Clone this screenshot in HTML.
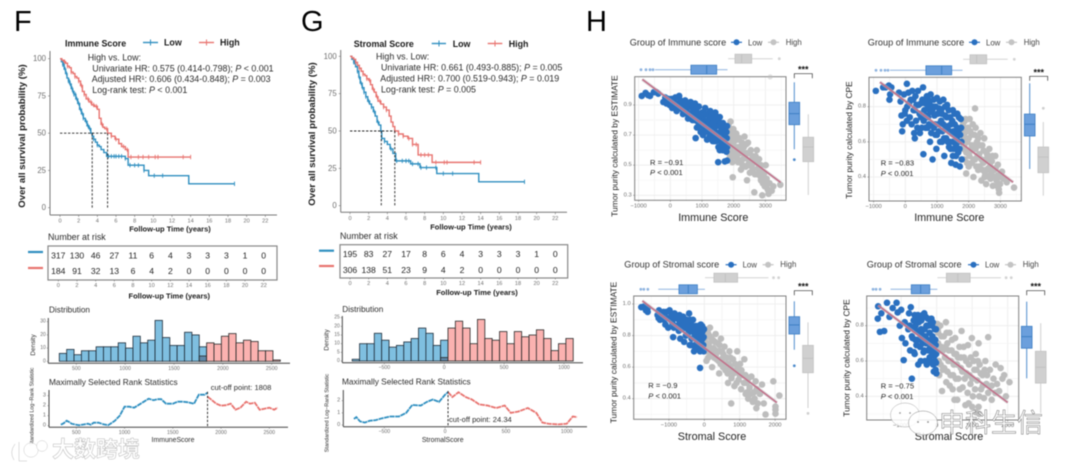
<!DOCTYPE html>
<html lang="en">
<head>
<meta charset="utf-8">
<title>Survival and tumor purity charts</title>
<style>
html,body{margin:0;padding:0;background:#fff;width:1080px;height:470px;overflow:hidden}
svg{display:block;filter:blur(0.5px)}
text{font-family:"Liberation Sans","Noto Sans CJK SC",sans-serif;dominant-baseline:central;fill:#2b2b2b}
.ann{font-size:8.9px}
.bold{font-weight:bold;fill:#1a1a1a}
</style>
</head>
<body>
<svg id="figure" width="1080" height="470" viewBox="0 0 1080 470" xmlns="http://www.w3.org/2000/svg">
  <rect width="1080" height="470" fill="#fff"/>
  <text x="14" y="22" font-size="29" style="fill:#000">F</text>
  <text x="301" y="22" font-size="29" style="fill:#000">G</text>
  <text x="586" y="22" font-size="29" style="fill:#000">H</text>

  <g id="marks"></g>

  <g>
    <text x="65" y="43.7" font-size="8.9" class="bold">Immune Score</text>
    <g>
      <line x1="143" y1="42.5" x2="158" y2="42.5" stroke="#2f8fc0" stroke-width="1.4"/>
      <line x1="150.5" y1="39.5" x2="150.5" y2="45.5" stroke="#2f8fc0"/>
      <text x="164" y="42.7" font-size="8.9" class="bold">Low</text>
    </g>
    <g>
      <line x1="199" y1="42.5" x2="214" y2="42.5" stroke="#e8736f" stroke-width="1.4"/>
      <line x1="206.5" y1="39.5" x2="206.5" y2="45.5" stroke="#e8736f"/>
      <text x="220" y="42.7" font-size="8.9" class="bold">High</text>
    </g>
    <text x="87.7" y="57.7" class="ann">High vs. Low:</text>
    <text x="92.3" y="68.3" class="ann">Univariate HR: 0.575 (0.414-0.798); <tspan font-style="italic">P</tspan> &lt; 0.001</text>
    <text x="91.7" y="79" class="ann">Adjusted HR¹: 0.606 (0.434-0.848); <tspan font-style="italic">P</tspan> = 0.003</text>
    <text x="92.3" y="90" class="ann">Log-rank test: <tspan font-style="italic">P</tspan> &lt; 0.001</text>
    <text transform="translate(22.7 136) rotate(-90)" text-anchor="middle" font-size="9.6" class="bold">Over all survival probability (%)</text>
    <text x="170" y="229" text-anchor="middle" font-size="7.5" class="bold">Follow-up Time (years)</text>
    <text x="48" y="237" font-size="8.9">Number at risk</text>
    <text x="169.3" y="296" text-anchor="middle" font-size="7.5" class="bold">Follow-up Time (years)</text>
    <text x="49" y="310" font-size="8.2">Distribution</text>
    <text transform="translate(33.5 345) rotate(-90)" text-anchor="middle" font-size="6.4">Density</text>
    <text x="49" y="382" font-size="8.3">Maximally Selected Rank Statistics</text>
    <text x="210.7" y="387.7" font-size="7.6">cut-off point: 1808</text>
    <text x="173" y="440.7" text-anchor="middle" font-size="6.9">ImmuneScore</text>
    <text transform="translate(32.7 406.7) rotate(-90)" text-anchor="middle" font-size="5.4">Standardized Log−Rank Statistic</text>
  </g>

  <g>
    <text x="353.7" y="44" font-size="8.9" class="bold">Stromal Score</text>
    <g>
      <line x1="431.7" y1="43.5" x2="446" y2="43.5" stroke="#2f8fc0" stroke-width="1.4"/>
      <line x1="439" y1="40.5" x2="439" y2="46.5" stroke="#2f8fc0"/>
      <text x="452.7" y="44" font-size="8.9" class="bold">Low</text>
    </g>
    <g>
      <line x1="487.7" y1="43.5" x2="502.3" y2="43.5" stroke="#e8736f" stroke-width="1.4"/>
      <line x1="495" y1="40.5" x2="495" y2="46.5" stroke="#e8736f"/>
      <text x="508.7" y="44" font-size="8.9" class="bold">High</text>
    </g>
    <text x="376" y="56.7" class="ann">High vs. Low:</text>
    <text x="381" y="67.7" class="ann">Univariate HR: 0.661 (0.493-0.885); <tspan font-style="italic">P</tspan> = 0.005</text>
    <text x="380.3" y="78.7" class="ann">Adjusted HR¹: 0.700 (0.519-0.943); <tspan font-style="italic">P</tspan> = 0.019</text>
    <text x="381" y="89.3" class="ann">Log-rank test: <tspan font-style="italic">P</tspan> = 0.005</text>
    <text transform="translate(312.3 134) rotate(-90)" text-anchor="middle" font-size="9.6" class="bold">Over all survival probability (%)</text>
    <text x="471" y="227" text-anchor="middle" font-size="7.5" class="bold">Follow-up Time (years)</text>
    <text x="340" y="236" font-size="8.9">Number at risk</text>
    <text x="477" y="292.7" text-anchor="middle" font-size="7.5" class="bold">Follow-up Time (years)</text>
    <text x="342.3" y="309.3" font-size="8.2">Distribution</text>
    <text transform="translate(327 340) rotate(-90)" text-anchor="middle" font-size="6.4">Density</text>
    <text x="342" y="381.7" font-size="8.3">Maximally Selected Rank Statistics</text>
    <text x="449" y="419.3" font-size="7.6">cut-off point: 24.34</text>
    <text x="442.7" y="440.7" text-anchor="middle" font-size="6.9">StromalScore</text>
    <text transform="translate(327.7 413) rotate(-90)" text-anchor="middle" font-size="5.4">Standardized Log−Rank Statistic</text>
  </g>

  <g opacity="0.95">
    <path d="M15 444 Q9 452 14 460 M19 442 V461 H27" fill="none" stroke="#fff" stroke-width="4"/>
    <path d="M15 444 Q9 452 14 460 M19 442 V461 H27" fill="none" stroke="#bbb" stroke-width="0.5"/>
    <circle cx="31" cy="450" r="5.5" fill="none" stroke="#fff" stroke-width="3"/>
    <circle cx="31" cy="450" r="7.2" fill="none" stroke="#bbb" stroke-width="0.4"/>
    <circle cx="42" cy="446" r="4" fill="none" stroke="#fff" stroke-width="2.5"/>
    <circle cx="42" cy="446" r="5.4" fill="none" stroke="#bbb" stroke-width="0.4"/>
    <text x="52" y="449.5" font-size="22" style="fill:#fff;stroke:#b4b4b4;stroke-width:0.5px;font-weight:bold">大数跨境</text>
  </g>
  <g>
    <ellipse cx="905" cy="415" rx="14.5" ry="12" fill="#fff" fill-opacity="0.85" stroke="#aaa" stroke-width="0.5"/>
    <ellipse cx="923" cy="423" rx="14.5" ry="12" fill="#fff" fill-opacity="0.85" stroke="#888" stroke-width="0.5"/>
    <circle cx="900" cy="413" r="0.9" fill="#999"/><circle cx="910" cy="413" r="0.9" fill="#999"/>
    <circle cx="918" cy="422" r="0.9" fill="#888"/><circle cx="928" cy="422" r="0.9" fill="#888"/>
    <text x="939" y="423" font-size="26" style="fill:#fff;stroke:#777;stroke-width:0.5px">申科生信</text>
  </g>
</svg>

<script>
/* ---------- Kaplan-Meier data ---------- */
const kmXTicks = [0,2,4,6,8,10,12,14,16,18,20,22];
const kmYTicks = [0,25,50,75,100];

const fLowTimes  = [0,.15,.3,.45,.6,.75,.9,1.05,1.2,1.35,1.5,1.7,1.9,2.1,2.3,2.5,2.7,2.9,3.1,3.3,3.45,3.6,3.8,4,4.2,4.4,4.7,5,7,7.3,9,9.5,13.8,18.7];
const fLowSurv   = [100,98,96,93,90,87,85,83,80,78,76,73,70,66,63,60,58,55,53,50,48,46,44,42,41,39,37,34.5,33,28.5,25,21.5,16,16];
const fHighTimes = [0,.2,.4,.6,.8,1,1.2,1.4,1.6,1.8,2,2.2,2.4,2.6,2.8,3.1,3.4,3.7,4,4.2,4.4,4.6,4.8,5.1,5.5,5.9,6.3,6.6,7,7.3,14];
const fHighSurv  = [100,99,98,97,95,94,91,90,88,87,85,82,78,76,73,71,69,68,66,60,56,54,53,50,48,46,43,41,39,34,34];
const fLowCensor  = [.3,.4,.55,.7,.9,1,1.1,1.3,1.4,1.5,1.65,1.8,2,2.2,2.4,2.5,2.8,3,3.2,3.6,4,5.2,5.5,5.8,6,6.3,6.6,7,7.5,8,8.4,9,10.1,11,18.7];
const fHighCensor = [.5,.8,1.2,1.6,2,2.3,2.6,3,3.3,3.6,3.9,4.5,5,5.5,6,6.8,7.2,7.6,8.4,8.9,9.5,10.2,10.5,13.2,14];
const fMedians = [3.45,5.1];

const gLowTimes  = [0,.2,.4,.6,.8,.95,1.1,1.3,1.5,1.7,1.9,2.1,2.3,2.5,2.7,2.9,3.1,3.3,3.4,3.7,4,4.3,4.6,4.9,6.5,7.5,9.3,13.8,18.7];
const gLowSurv   = [100,98,96,93,90,86,82,79,76,73,70,68,66,63,60,56,54,50,45,43,41,38,35,30,28,25.5,21.5,16,16];
const gHighTimes = [0,.2,.4,.6,.8,1,1.2,1.4,1.6,1.8,2,2.2,2.4,2.6,2.8,3,3.3,3.6,3.9,4.2,4.4,4.6,4.8,5.2,5.7,6.2,6.7,7.3,8.8,14];
const gHighSurv  = [100,99,98,96,94,92,90,88,87,85,84,81,78,76,73,70,68,66,64,60,56,53,50,48,46.5,45,41,34,29,29];
const gLowCensor  = [.4,.5,.8,1,1.2,1.35,1.5,1.7,2,2.3,2.6,3,3.4,3.7,4.4,5,5.6,6,6.3,6.7,7.3,7.6,8.2,9.2,10,11,18.7];
const gHighCensor = [.6,1,1.4,1.8,2.1,2.5,2.9,3.2,3.6,3.9,4.8,5.2,5.7,6.3,6.7,7.1,7.6,8,8.4,9.2,10.1,10.4,13.3,14];
const gMedians = [3.35,4.8];

/* ---------- Numbers at risk ---------- */
const riskTimes = [0,2,4,6,8,10,12,14,16,18,20,22];
const fRiskLow  = [317,130,46,27,11,6,4,3,3,3,1,0];
const fRiskHigh = [184,91,32,13,6,4,2,0,0,0,0,0];
const gRiskLow  = [195,83,27,17,8,6,4,3,3,3,1,0];
const gRiskHigh = [306,138,51,23,9,4,2,0,0,0,0,0];

/* ---------- Distribution histograms ---------- */
const fHistStart = 326;
const fHistWidth = 75.4;
const fHistLow  = [6,9,5,8,8,11,11,11,14,10,19,14,16,31,18,12,12,22,20,11,0,0,0,0,0,0,0,0,0,0];
const fHistHigh = [0,0,0,0,0,0,0,0,0,0,0,0,0,0,0,0,0,0,0,4,14,13,19,21,14,16,15,8,8,1];
const fHistXTicks = [500,1000,1500,2000,2500];
const fHistYTicks = [0,10,20,30];

const gHistStart = -768;
const gHistWidth = 61.5;
const gHistLow  = [1,10,10,16,12,8,9,11,13,19,16,9,12,0,0,0,0,0,0,0,0,0,0,0,0,0,0,0,0,0];
const gHistHigh = [0,0,0,0,0,0,0,0,0,0,0,0,2,19,23,19,10,24,13,12,17,10,17,14,15,18,13,6,10,13];
const gHistXTicks = [-500,0,500,1000];
const gHistYTicks = [0,5,10,15,20,25];

/* ---------- Maximally selected rank statistics ---------- */
const fRankLowX  = [340,370,400,430,450,500,530,560,590,620,650,680,730,780,830,870,900,950,1000,1050,1100,1150,1200,1250,1300,1340,1380,1430,1500,1550,1600,1650,1720,1770,1830,1860];
const fRankLowY  = [.1,.25,.5,.35,.2,.1,.05,.1,.15,.2,.1,.3,.3,.15,.05,.3,.5,1,1.9,1.9,1.8,2.1,2.4,2.7,2.55,2.65,2.65,2.2,2.2,2.4,2.4,2.35,2.2,3.1,3.1,3.3];
const fRankHighX = [1860,1900,1950,2000,2050,2100,2150,2200,2260,2300,2350,2400,2450,2500,2550,2585];
const fRankHighY = [2.9,2.6,2.2,2.0,2.05,2.2,1.6,1.8,2.4,2.2,2.3,1.6,1.7,1.8,1.6,1.8];
const fRankCutoff = [1860];
const fRankXTicks = [500,1000,1500,2000,2500];
const fRankYTicks = [0,1,2,3];

const gRankLowX  = [-750,-730,-700,-660,-620,-570,-520,-450,-380,-320,-270,-200,-150,-100,-50,0,24];
const gRankLowY  = [.5,.65,.3,.2,.35,.4,.55,.7,.7,1,1.65,1.6,1.9,2.1,1.9,2.5,2.7];
const gRankHighX = [24,60,110,170,220,280,350,420,490,540,600,680,750,800,850,930,1000,1050,1085];
const gRankHighY = [2.7,2.3,2.7,2.3,2.1,1.7,1.6,1.4,1.6,1.0,1.1,1.4,1,.2,.1,.05,.1,.7,.65];
const gRankCutoff = [24.34];
const gRankXTicks = [-500,0,500,1000];
const gRankYTicks = [0,1,2];

/* ---------- Scatter panels ---------- */
const p1Low = [[-900,.96],[-780,.98],[-700,.965],[-640,.96],[-520,.985],[-440,.985],[-380,.975],[-220,.92],[-160,.95],[-120,.91],[-60,.94],[-20,.90],[40,.94],[60,.88],[120,.92],[160,.95],[200,.86],[240,.91],[280,.96],[320,.93],[340,.88],[400,.84],[420,.90],[470,.93],[520,.86],[560,.81],[600,.89],[640,.92],[680,.84],[700,.80],[720,.87],[760,.80],[780,.91],[800,.68],[840,.75],[860,.84],[900,.89],[900,.81],[940,.78],[960,.72],[1000,.85],[1020,.81],[1060,.74],[1100,.88],[1100,.77],[1130,.79],[1160,.67],[1180,.84],[1200,.80],[1220,.72],[1260,.86],[1280,.77],[1300,.74],[1320,.69],[1340,.82],[1380,.74],[1400,.70],[1420,.85],[1450,.66],[1450,.76],[1470,.79],[1500,.71],[1520,.62],[1540,.76],[1560,.82],[1600,.67],[1620,.73],[1650,.60],[1660,.78],[1700,.70],[1720,.64],[1740,.75],[1770,.59],[1780,.68],[1790,.62],[1510,.52],[1720,.525],[1790,.53],
  [0,.92],[100,.90],[180,.89],[260,.88],[300,.90],[380,.87],[450,.88],[500,.90],[550,.84],[600,.84],[650,.81],[700,.90],[740,.83],[780,.85],[820,.87],[860,.79],[900,.76],[950,.83],[1000,.78],[1030,.70],[1050,.83],[1090,.72],[1120,.84],[1160,.73],[1200,.76],[1240,.69],[1240,.82],[1300,.83],[1340,.66],[1350,.78],[1390,.66],[1400,.80],[1420,.72],[1480,.68],[1500,.82],[1530,.68],[1560,.60],[1570,.72],[1620,.64],[1640,.76],[1680,.66],[1700,.60],[1720,.72],[1760,.62],[1770,.72],[1790,.76],[1750,.68],[1600,.78]];
const p1High = [[1820,.72],[1860,.64],[1880,.55],[1900,.79],[1920,.68],[1950,.60],[1970,.42],[1990,.74],[2020,.66],[2050,.56],[2080,.71],[2110,.62],[2140,.52],[2170,.68],[2200,.58],[2230,.47],[2260,.65],[2290,.54],[2320,.62],[2340,.69],[2380,.49],[2400,.58],[2420,.40],[2450,.65],[2480,.53],[2510,.45],[2540,.60],[2570,.49],[2600,.56],[2650,.32],[2670,.44],[2700,.52],[2730,.60],[2770,.48],[2800,.54],[2830,.43],[2860,.50],[2900,.30],[2920,.38],[2950,.44],[2980,.36],[3010,.50],[3040,.41],[3070,.34],[3100,.31],[3130,.38],[3200,.33],[3250,.36],[3470,.37],[1850,.58],[1960,.52],[2150,.60],[2080,.58],[2000,.62],
  [1830,.66],[1840,.76],[1880,.72],[1900,.62],[1930,.57],[1950,.72],[1990,.56],[2040,.70],[2060,.62],[2100,.55],[2120,.67],[2180,.62],[2210,.53],[2250,.60],[2280,.50],[2300,.58],[2360,.55],[2400,.64],[2440,.50],[2500,.58],[2530,.50],[2600,.47],[2640,.52],[2690,.56],[2750,.44],[2800,.47],[2860,.40],[2900,.45],[2970,.40],[3020,.37]];
const p1Stray = [[3150,1.087]];
const p1Fit = [[-883,1.07],[3480,.386]];

const p2Low = [[-930,.89],[-700,.91],[-620,.91],[-520,.92],[-500,.84],[-480,.87],[-440,.91],[-200,.88],[-150,.83],[-120,.75],[-80,.70],[-40,.87],[-20,.76],[-100,.66],[50,.93],[60,.80],[100,.88],[140,.74],[170,.84],[220,.89],[260,.78],[280,.65],[300,.62],[320,.86],[340,.72],[400,.89],[420,.81],[460,.65],[500,.74],[540,.84],[560,.91],[570,.53],[600,.78],[640,.68],[680,.86],[720,.74],[760,.82],[780,.60],[800,.87],[830,.70],[860,.50],[880,.80],[920,.75],[950,.64],[980,.56],[1000,.85],[1040,.70],[1070,.79],[1100,.60],[1130,.72],[1170,.66],[1200,.84],[1230,.52],[1260,.75],[1290,.62],[1320,.81],[1350,.69],[1380,.57],[1410,.74],[1450,.48],[1470,.65],[1500,.78],[1530,.56],[1560,.70],[1590,.47],[1620,.62],[1640,.76],[1670,.54],[1700,.67],[1720,.46],[1750,.73],[1770,.60],[1780,.50],[1600,.66],[900,.68],[1150,.76],[1400,.60],[700,.79],
  [0,.78],[50,.72],[120,.82],[200,.70],[250,.84],[300,.78],[350,.81],[380,.68],[450,.76],[500,.82],[520,.68],[580,.72],[620,.82],[650,.75],[700,.68],[720,.84],[750,.70],[790,.77],[820,.65],[850,.78],[900,.84],[940,.70],[960,.80],[1000,.64],[1020,.76],[1060,.66],[1090,.83],[1130,.78],[1160,.60],[1200,.70],[1220,.62],[1250,.80],[1280,.68],[1310,.74],[1340,.60],[1370,.78],[1400,.66],[1430,.56],[1440,.70],[1480,.72],[1500,.60],[1520,.66],[1550,.76],[1580,.64],[1600,.58],[1640,.68],[1660,.60],[1690,.74],[1710,.56],[1730,.64],[1760,.68],[1600,.52],[1500,.52]];
const p2High = [[1820,.70],[1830,.56],[1850,.63],[1870,.50],[1900,.73],[1920,.42],[1960,.60],[1980,.68],[2000,.46],[2030,.73],[2060,.55],[2090,.64],[2200,.79],[2150,.40],[2170,.58],[2200,.50],[2220,.68],[2260,.60],[2300,.44],[2330,.53],[2370,.65],[2400,.38],[2430,.58],[2460,.48],[2490,.62],[2520,.42],[2550,.36],[2580,.53],[2620,.45],[2650,.56],[2690,.39],[2730,.49],[2760,.35],[2800,.44],[2840,.52],[2880,.38],[2920,.47],[2950,.33],[2960,.31],[3000,.40],[2990,.36],[3050,.43],[3100,.39],[3200,.37],[3430,.34],[1870,.65],[2000,.55],[2100,.48],
  [1840,.68],[1860,.58],[1880,.72],[1900,.62],[1920,.54],[1940,.66],[1950,.48],[2000,.62],[2020,.52],[2050,.66],[2100,.58],[2130,.70],[2150,.50],[2180,.64],[2220,.56],[2240,.46],[2280,.52],[2300,.62],[2340,.46],[2360,.58],[2400,.50],[2440,.44],[2470,.55],[2500,.40],[2540,.50],[2560,.44],[2600,.50],[2640,.40],[2680,.46],[2720,.42],[2750,.52],[2790,.40],[2850,.45],[2900,.35],[2920,.41]];
const p2Stray = [];
const p2Fit = [[-800,.94],[3400,.37]];

const p3Low = [[-1780,.98],[-1700,.985],[-1650,.96],[-1600,.975],[-1600,.95],[-1280,.96],[-1320,.93],[-1250,.90],[-1180,.93],[-1130,.90],[-1070,.95],[-1020,.85],[-1000,.91],[-980,.96],[-900,.88],[-880,.79],[-840,.94],[-800,.86],[-760,.91],[-720,.83],[-680,.78],[-640,.89],[-600,.92],[-570,.76],[-540,.85],[-500,.90],[-470,.81],[-430,.94],[-410,.74],[-380,.87],[-350,.83],[-320,.90],[-290,.70],[-270,.79],[-240,.86],[-200,.75],[-170,.82],[-150,.72],[-120,.70],[-100,.87],[-80,.77],[-60,.82],[-30,.74],[-10,.84],[-120,.595],[-230,.80],[-450,.87],[-700,.89],[-140,.79],
  [-1290,.91],[-1220,.94],[-1150,.95],[-1100,.87],[-1050,.91],[-950,.90],[-920,.93],[-860,.85],[-800,.91],[-760,.86],[-700,.93],[-660,.85],[-620,.84],[-580,.87],[-520,.80],[-490,.86],[-440,.83],[-400,.90],[-360,.78],[-330,.86],[-300,.82],[-260,.85],[-220,.75],[-180,.86],[-150,.77],[-110,.83],[-90,.73],[-50,.78],[-20,.79],[-20,.70],[-60,.86],[-270,.73],[-370,.74]];
const p3High = [[20,.78],[40,.70],[60,.64],[100,.82],[130,.75],[160,.85],[180,.68],[220,.60],[250,.77],[290,.71],[320,.81],[350,.65],[390,.75],[420,.56],[440,.70],[470,.78],[510,.62],[540,.68],[570,.73],[600,.58],[640,.66],[670,.50],[710,.70],[730,.60],[770,.53],[810,.65],[850,.48],[760,.37],[890,.58],[930,.70],[970,.52],[1010,.62],[1040,.46],[1090,.55],[1130,.65],[1170,.43],[1200,.50],[1240,.40],[1280,.47],[1330,.54],[1370,.38],[1400,.44],[1450,.51],[1470,.34],[1510,.37],[1570,.43],[1630,.49],[1680,.37],[1730,.30],[1950,.51],[2010,.33],[2010,.35],[2010,.305],[2120,.42],[480,.65],[280,.66],[120,.70],
  [30,.84],[50,.75],[70,.80],[90,.72],[110,.66],[140,.80],[170,.72],[200,.78],[230,.68],[260,.72],[300,.76],[330,.68],[370,.70],[400,.64],[430,.74],[460,.62],[500,.70],[530,.60],[560,.66],[620,.62],[660,.56],[690,.62],[740,.66],[790,.58],[830,.56],[870,.62],[910,.50],[950,.60],[1000,.55],[1050,.58],[1120,.50],[1160,.55],[1250,.53],[1300,.43],[1420,.40],[1480,.46],[1200,.44]];
const p3Stray = [];
const p3Fit = [[-1750,1.02],[2050,.375]];

const p4Low = [[-1660,.84],[-1650,.91],[-1600,.765],[-1560,.87],[-1480,.77],[-1400,.93],[-1330,.85],[-1240,.90],[-1130,.93],[-1100,.875],[-1040,.80],[-1000,.89],[-980,.73],[-930,.605],[-900,.82],[-880,.70],[-800,.78],[-780,.87],[-750,.66],[-730,.905],[-700,.50],[-680,.73],[-640,.65],[-600,.80],[-570,.69],[-530,.86],[-490,.76],[-450,.60],[-430,.83],[-400,.70],[-370,.65],[-340,.78],[-310,.85],[-280,.58],[-260,.72],[-230,.80],[-200,.67],[-180,.60],[-150,.84],[-120,.74],[-100,.64],[-80,.54],[-50,.78],[-30,.69],[-20,.59],[-10,.53],[-350,.87],[-520,.58],[-650,.83],[-560,.77],[-300,.70],[-130,.80],[-60,.63],[-420,.75],
  [-760,.80],[-700,.74],[-660,.79],[-620,.86],[-600,.72],[-560,.84],[-530,.72],[-500,.82],[-470,.68],[-440,.78],[-400,.86],[-380,.72],[-350,.66],[-320,.74],[-290,.80],[-250,.84],[-240,.66],[-200,.76],[-180,.83],[-160,.70],[-130,.64],[-110,.82],[-90,.72],[-70,.66],[-50,.60],[-40,.72],[-20,.78],[-15,.64],[-100,.58],[-30,.55],[-200,.62],[-330,.60],[-620,.64]];
const p4High = [[20,.81],[40,.70],[60,.60],[70,.52],[30,.78],[100,.80],[130,.68],[150,.43],[170,.55],[200,.74],[230,.62],[260,.82],[270,.48],[300,.70],[330,.60],[360,.76],[390,.52],[420,.66],[450,.44],[480,.58],[520,.73],[550,.64],[580,.38],[610,.50],[640,.68],[680,.56],[700,.77],[730,.45],[770,.62],[810,.35],[840,.53],[880,.69],[910,.58],[950,.47],[990,.73],[1020,.40],[1060,.55],[1100,.64],[1140,.49],[1180,.34],[1210,.58],[1250,.44],[1290,.52],[1330,.39],[1370,.60],[1450,.735],[1400,.47],[1450,.42],[1500,.55],[1550,.38],[1600,.50],[1660,.58],[1700,.47],[1760,.43],[1800,.56],[1850,.50],[1900,.52],[2050,.48],[1950,.40],[1180,.70],[500,.38],
  [40,.76],[80,.66],[110,.58],[130,.74],[180,.66],[210,.56],[250,.68],[280,.76],[300,.54],[340,.66],[370,.46],[400,.60],[430,.72],[460,.52],[500,.64],[540,.50],[570,.58],[600,.62],[650,.44],[680,.62],[720,.54],[760,.68],[790,.50],[830,.60],[870,.42],[920,.52],[960,.62],[1000,.50],[1040,.60],[1080,.44],[1120,.55],[1160,.60],[1200,.40],[1240,.53],[1300,.46],[1350,.55],[1420,.52],[1550,.46],[1650,.42],[900,.36],[1000,.34],[1100,.31],[1200,.30]];
const p4Stray = [];
const p4Fit = [[-1650,.915],[2000,.365]];

/* ---------- Box plot statistics: lower whisker, Q1, median, Q3, upper whisker ---------- */
const immuneLowBox = [-483,650,1148,1464,1805];
const immuneLowOut = [-924,-767,-640,-546];
const immuneHighBox = [1825,2041,2252,2568,3230];
const immuneHighOut = [3438];
const stromalLowBox = [-1300,-716,-452,-195,18];
const stromalLowOut = [-1793,-1708,-1595];
const stromalHighBox = [20,272,594,942,1812];
const stromalHighOut = [1955,2100];

const p1PurityLowBox = [.584,.733,.80,.869,.99];
const p1PurityLowOut = [.521];
const p1PurityHighBox = [.307,.509,.598,.657,.796];
const p1PurityHighOut = [];
const p2PurityLowBox = [.446,.64,.709,.769,.95];
const p2PurityLowOut = [];
const p2PurityHighBox = [.289,.424,.516,.575,.722];
const p2PurityHighOut = [.803];
const p3PurityLowBox = [.693,.79,.846,.897,.992];
const p3PurityLowOut = [.594];
const p3PurityHighBox = [.333,.551,.64,.72,.862];
const p3PurityHighOut = [.30];
const p4PurityLowBox = [.484,.661,.729,.79,.935];
const p4PurityLowOut = [];
const p4PurityHighBox = [.28,.456,.549,.643,.808];
const p4PurityHighOut = [];

const immuneTicks = [-1000,0,1000,2000,3000];
const stromalTicks = [-1000,0,1000,2000];
const p1PurityTicks = [.3,.5,.7,.9];
const p2PurityTicks = [.4,.6,.8];
const p3PurityTicks = [.4,.6,.8,1.0];
const p4PurityTicks = [.4,.6,.8];

/* ---------- Helpers ---------- */
const NS = 'http://www.w3.org/2000/svg';
const root = document.getElementById('marks');
const LOW = '#2f8fc0', HIGH = '#e8736f', TICK = '#6e6e6e', AXIS = '#444';

function linear(v0, p0, v1, p1) {
  const f = (p1 - p0) / (v1 - v0);
  return v => p0 + (v - v0) * f;
}
function make(parent, tag, attrs) {
  const e = document.createElementNS(NS, tag);
  for (const k in attrs) e.setAttribute(k, attrs[k]);
  parent.appendChild(e);
  return e;
}
function group(name) {
  const g = make(root, 'g', {});
  
  
  return g;
}
function line(g, name, x1, y1, x2, y2, stroke, w, dash) {
  const l = make(g, 'line', {x1, y1, x2, y2, stroke, 'stroke-width': w || 1});
  if (dash) l.setAttribute('stroke-dasharray', dash);
  
  
  return l;
}
function label(g, name, x, y, str, size, anchor, color) {
  const t = make(g, 'text', {x, y, 'font-size': size, 'text-anchor': anchor || 'start'});
  if (color) t.style.fill = color;
  t.textContent = str;
  
  
  return t;
}
function stepAt(times, vals, t) {
  let v = vals[0];
  for (let i = 0; i < times.length; i++) if (times[i] <= t) v = vals[i];
  return v;
}

/* ---------- Kaplan-Meier ---------- */
function drawKM(name, c) {
  const g = group('km-plot-' + name);
  const x = linear(0, c.x0, 22, c.x22), y = linear(0, c.y0, 100, c.y100);
  line(g, 'km-y-axis', c.left, c.top, c.left, c.bottom, '#777', 1);
  line(g, 'km-x-axis', c.left, c.bottom, c.right, c.bottom, '#777', 1);
  kmXTicks.forEach(t => {
    line(g, 'km-x-tick', x(t), c.bottom, x(t), c.bottom + 2, '#777', .6);
    label(g, 'km-x-tick-label', x(t), c.bottom + 6.7, t, 5.6, 'middle', TICK);
  });
  kmYTicks.forEach(v => {
    line(g, 'km-y-tick', c.left - 2, y(v), c.left, y(v), '#777', .6);
    label(g, 'km-y-tick-label', c.left - 4, y(v), v, 7.8, 'end', TICK);
  });
  [[c.lowT, c.lowS, c.lowC, LOW, 'low'], [c.highT, c.highS, c.highC, HIGH, 'high']].forEach(s => {
    let d = 'M' + x(s[0][0]) + ' ' + y(s[1][0]);
    for (let i = 1; i < s[0].length; i++) d += 'H' + x(s[0][i]) + 'V' + y(s[1][i]);
    const p = make(g, 'path', {d, fill: 'none', stroke: s[3], 'stroke-width': 1.4});
    
    
    s[2].forEach(t => {
      const v = stepAt(s[0], s[1], t);
      line(g, 'km-censor-mark-' + s[4], x(t), y(v) - 2.2, x(t), y(v) + 2.2, s[3], .9);
    });
  });
  line(g, 'median-line-horizontal', x(0), y(50), x(c.med[1]), y(50), '#222', .9, '2.4 1.6');
  c.med.forEach(t => line(g, 'median-line-vertical', x(t), y(50), x(t), y(0), '#222', .9, '2.4 1.6'));
}
drawKM('immune', {x0:60, x22:265.3, y0:207.7, y100:58.7, left:50, top:51, bottom:215, right:277,
  lowT:fLowTimes, lowS:fLowSurv, lowC:fLowCensor, highT:fHighTimes, highS:fHighSurv, highC:fHighCensor, med:fMedians});
drawKM('stromal', {x0:350, x22:555.3, y0:205.7, y100:56.3, left:340.7, top:50, bottom:212.3, right:567,
  lowT:gLowTimes, lowS:gLowSurv, lowC:gLowCensor, highT:gHighTimes, highS:gHighSurv, highC:gHighCensor, med:gMedians});

/* ---------- Risk tables ---------- */
function drawRisk(name, c) {
  const g = group('risk-table-' + name);
  const x = linear(0, c.x0, 22, c.x22);
  const r = make(g, 'rect', {x:c.left, y:c.top, width:c.right-c.left, height:c.bottom-c.top, fill:'#fff', stroke:'#888', 'stroke-width':1.2});
  
  
  line(g, 'risk-legend-low', c.legL, c.legY1, c.legR, c.legY1, LOW, 2.2);
  line(g, 'risk-legend-high', c.legL, c.legY2, c.legR, c.legY2, HIGH, 2.2);
  riskTimes.forEach((t, i) => {
    label(g, 'risk-count-low', x(t), c.row1, c.low[i], 8.6, 'middle', '#222');
    label(g, 'risk-count-high', x(t), c.row2, c.high[i], 8.6, 'middle', '#222');
    line(g, 'risk-tick', x(t), c.bottom, x(t), c.bottom + 1.5, '#777', .6);
    label(g, 'risk-tick-label', x(t), c.bottom + 6, t, 5.6, 'middle', TICK);
  });
}
drawRisk('immune', {x0:58.3, x22:263.7, left:48, right:277, top:246, bottom:280, row1:255.5, row2:271, legL:28, legR:43, legY1:252, legY2:268, low:fRiskLow, high:fRiskHigh});
drawRisk('stromal', {x0:350, x22:555.3, left:340, right:567.7, top:244.7, bottom:278, row1:254, row2:270, legL:319, legR:334, legY1:250.7, legY2:266, low:gRiskLow, high:gRiskHigh});

/* ---------- Histograms ---------- */
function drawHist(name, c) {
  const g = group('distribution-' + name);
  const x = c.x, y = c.y;
  c.low.forEach((n, i) => {
    const a = x(c.start + i * c.width), b = x(c.start + (i + 1) * c.width);
    const h = c.high[i];
    if (n > 0) {
      const r = make(g, 'rect', {x:a, y:y(n), width:b-a, height:y(0)-y(n), fill:'#7fbfe0', stroke:'#1f2d3a', 'stroke-width':.8});
      
      
    }
    if (h > 0) {
      const r = make(g, 'rect', {x:a, y:y(h), width:b-a, height:y(0)-y(h), fill:n > 0 ? '#5f88a8' : '#fbb2b0', stroke:'#2a2a2a', 'stroke-width':.8});
      
      
    }
  });
  line(g, 'histogram-y-axis', c.left, c.top, c.left, c.bottom, AXIS, 1);
  line(g, 'histogram-x-axis', c.left, c.bottom, c.right, c.bottom, AXIS, 1);
  c.xTicks.forEach(t => {
    line(g, 'histogram-x-tick', x(t), c.bottom, x(t), c.bottom + 1.5, '#777', .6);
    label(g, 'histogram-x-tick-label', x(t), c.bottom + 5.5, t < 0 ? '−' + (-t) : t, 5.2, 'middle', TICK);
  });
  c.yTicks.forEach(v => {
    line(g, 'histogram-y-tick', c.left - 1.5, y(v), c.left, y(v), '#777', .6);
    label(g, 'histogram-y-tick-label', c.left - 2.5, y(v), v, 5, 'end', TICK);
  });
}
drawHist('immune', {x:linear(500,76.3,2500,271.7), y:linear(0,361.3,30,321.7), start:fHistStart, width:fHistWidth, low:fHistLow, high:fHistHigh,
  left:48.3, top:318, bottom:363.3, right:290, xTicks:fHistXTicks, yTicks:fHistYTicks});
drawHist('stromal', {x:linear(-500,384.3,1000,564), y:linear(0,361,25,317.7), start:gHistStart, width:gHistWidth, low:gHistLow, high:gHistHigh,
  left:342.3, top:316, bottom:362.7, right:583, xTicks:gHistXTicks, yTicks:gHistYTicks});

/* ---------- Rank statistic lines ---------- */
function drawRank(name, c) {
  const g = group('rank-statistic-' + name);
  const x = c.x, y = c.y;
  [[c.lowX, c.lowY, LOW, 'low'], [c.highX, c.highY, HIGH, 'high']].forEach(s => {
    const pts = s[0].map((v, i) => x(v) + ',' + y(s[1][i])).join(' ');
    const p = make(g, 'polyline', {points: pts, fill: 'none', stroke: s[2], 'stroke-width': 1.8, 'stroke-dasharray': '5 .6'});
    
    
  });
  line(g, 'cutoff-line', x(c.cut[0]), c.cutTop, x(c.cut[0]), c.bottom, '#222', .9, '2.4 1.6');
  line(g, 'rank-y-axis', c.left, c.top, c.left, c.bottom, AXIS, 1);
  line(g, 'rank-x-axis', c.left, c.bottom, c.right, c.bottom, AXIS, 1);
  c.xTicks.forEach(t => {
    line(g, 'rank-x-tick', x(t), c.bottom, x(t), c.bottom + 1.5, '#777', .6);
    label(g, 'rank-x-tick-label', x(t), c.bottom + 5.5, t < 0 ? '−' + (-t) : t, 5.2, 'middle', TICK);
  });
  c.yTicks.forEach(v => {
    line(g, 'rank-y-tick', c.left - 1.5, y(v), c.left, y(v), '#777', .6);
    label(g, 'rank-y-tick-label', c.left - 3, y(v), v, 5.6, 'end', TICK);
  });
}
drawRank('immune', {x:linear(500,76.3,2500,269.3), y:linear(0,425.7,3,395.7), lowX:fRankLowX, lowY:fRankLowY, highX:fRankHighX, highY:fRankHighY,
  cut:fRankCutoff, cutTop:391.7, left:49, top:390, bottom:427.3, right:288, xTicks:fRankXTicks, yTicks:fRankYTicks});
drawRank('stromal', {x:linear(-500,384.3,1000,566.7), y:linear(0,425,2,400.7), lowX:gRankLowX, lowY:gRankLowY, highX:gRankHighX, highY:gRankHighY,
  cut:gRankCutoff, cutTop:391, left:343.3, top:390, bottom:426.7, right:587, xTicks:gRankXTicks, yTicks:gRankYTicks});

/* ---------- Box plots ---------- */
function drawBox(g, name, scale, stats, outliers, center, thick, horizontal, fill, stroke, whisk) {
  const v = stats.map(scale);
  const L = (p1, p2, c, col, w, n) => horizontal
    ? line(g, n, p1, center + c, p2, center + c, col, w)
    : line(g, n, center + c, p1, center + c, p2, col, w);
  L(v[0], v[1], 0, whisk, 1, name + '-whisker-lower');
  L(v[3], v[4], 0, whisk, 1, name + '-whisker-upper');
  const r = make(g, 'rect', horizontal
    ? {x:Math.min(v[1],v[3]), y:center-thick/2, width:Math.abs(v[3]-v[1]), height:thick}
    : {x:center-thick/2, y:Math.min(v[1],v[3]), width:thick, height:Math.abs(v[3]-v[1])});
  r.setAttribute('fill', fill);
  r.setAttribute('stroke', stroke);
  r.setAttribute('stroke-width', .8);
  
  
  const m = horizontal
    ? line(g, name + '-median', v[2], center - thick/2, v[2], center + thick/2, stroke, 1)
    : line(g, name + '-median', center - thick/2, v[2], center + thick/2, v[2], stroke, 1);
  outliers.forEach(o => {
    const q = scale(o);
    const c = make(g, 'circle', horizontal ? {cx:q, cy:center, r:1.4, fill:whisk} : {cx:center, cy:q, r:1.4, fill:whisk});
    
    
  });
  return m;
}

/* ---------- Scatter panels ---------- */
function drawScatter(name, c) {
  const g = group('scatter-panel-' + name);
  const x = c.x, y = c.y;
  const bg = make(g, 'rect', {x:c.left, y:c.top, width:c.right-c.left, height:c.bottom-c.top, fill:'#fff'});
  
  
  const xHalf = (c.xTicks[1] - c.xTicks[0]) / 2, yHalf = (c.yTicks[1] - c.yTicks[0]) / 2;
  c.xTicks.forEach(t => {
    line(g, 'grid-x-major', x(t), c.top, x(t), c.bottom, '#ececec', .8);
    [t - xHalf, t + xHalf].forEach(m => {
      if (x(m) > c.left && x(m) < c.right) line(g, 'grid-x-minor', x(m), c.top, x(m), c.bottom, '#f4f4f4', .6);
    });
    line(g, 'x-tick', x(t), c.bottom, x(t), c.bottom + 1.5, '#777', .6);
    label(g, 'x-tick-label', x(t), c.bottom + 6.2, t < 0 ? '−' + (-t) : t, 5.8, 'middle', TICK);
  });
  c.yTicks.forEach(v => {
    line(g, 'grid-y-major', c.left, y(v), c.right, y(v), '#ececec', .8);
    [v - yHalf, v + yHalf].forEach(m => {
      if (y(m) > c.top && y(m) < c.bottom) line(g, 'grid-y-minor', c.left, y(m), c.right, y(m), '#f4f4f4', .6);
    });
    line(g, 'y-tick', c.left - 1.5, y(v), c.left, y(v), '#777', .6);
    label(g, 'y-tick-label', c.left - 3, y(v), v.toFixed(1), 5.8, 'end', TICK);
  });
  c.high.forEach(p => {
    const d = make(g, 'circle', {cx:x(p[0]), cy:y(p[1]), r:3.3, fill:'#bdbdbd'});
    
    
  });
  c.low.forEach(p => {
    const d = make(g, 'circle', {cx:x(p[0]), cy:y(p[1]), r:3.3, fill:'#2a70c0'});
    
    
  });
  line(g, 'fit-line-band', x(c.fit[0][0]), y(c.fit[0][1]), x(c.fit[1][0]), y(c.fit[1][1]), 'rgba(190,190,190,.55)', 3.2);
  line(g, 'fit-line', x(c.fit[0][0]), y(c.fit[0][1]), x(c.fit[1][0]), y(c.fit[1][1]), '#c2708a', 1.6);
  const frame = make(g, 'rect', {x:c.left, y:c.top, width:c.right-c.left, height:c.bottom-c.top, fill:'none', stroke:'#808080', 'stroke-width':1});
  
  
  c.stray.forEach(p => {
    const d = make(g, 'circle', {cx:x(p[0]), cy:y(p[1]), r:2.6, fill:'#bdbdbd', 'fill-opacity':.45});
    
    
  });

  drawBox(g, 'top-box-low', x, c.topLow, c.topLowOut, c.topLowY, 9, true, '#6b9fdc', '#3e7fc4', '#8fb4e0');
  drawBox(g, 'top-box-high', x, c.topHigh, c.topHighOut, c.topHighY, 9, true, '#d0d0d0', '#c2c2c2', '#d4d4d4');
  drawBox(g, 'right-box-low', c.ry, c.rLow, c.rLowOut, c.rLowX, 10.7, false, '#6b9fdc', '#3e7fc4', '#4f8ccc');
  drawBox(g, 'right-box-high', c.ry, c.rHigh, c.rHighOut, c.rHighX, 10.7, false, '#d0d0d0', '#c2c2c2', '#cfcfcf');

  const bx = c.rLowX, by = c.brY;
  const br = make(g, 'path', {d:'M' + bx + ' ' + (by + 4.5) + 'V' + by + 'H' + (bx + 18) + 'V' + (by + 4.5), fill:'none', stroke:'#333', 'stroke-width':.7});
  
  
  label(g, 'significance-stars', bx + 9, by - 4, '***', 9, 'middle', '#111').style.fontWeight = 'bold';

  label(g, 'legend-title', c.legX, c.legY, c.legTitle, 9.2, 'start', '#333');
  const lg1 = c.legX + 101.3, lg2 = c.legX + 138.3;
  line(g, 'legend-line-low', lg1, c.legY, lg1 + 11, c.legY, '#2a70c0', 1.2);
  const ld1 = make(g, 'circle', {cx:lg1 + 5.5, cy:c.legY, r:3, fill:'#2a70c0'});
  
  
  label(g, 'legend-label-low', c.legX + 118.3, c.legY + .5, 'Low', 7.8, 'start', '#444');
  line(g, 'legend-line-high', lg2, c.legY, lg2 + 11, c.legY, '#c4c4c4', 1.2);
  const ld2 = make(g, 'circle', {cx:lg2 + 5.5, cy:c.legY, r:3, fill:'#c4c4c4'});
  
  
  label(g, 'legend-label-high', c.legX + 156, c.legY, 'High', 7.8, 'start', '#444');

  label(g, 'x-axis-title', c.xTitleX, c.xTitleY, c.xTitle, 10.8, 'middle', '#222');
  const yt = label(g, 'y-axis-title', 0, 0, c.yTitle, c.yTitleSize, 'middle', '#222');
  yt.setAttribute('transform', 'translate(' + c.yTitleX + ' ' + c.yTitleY + ') rotate(-90)');

  label(g, 'correlation-label', c.rX, c.rY, c.rText, 7.6, 'start', '#222');
  const pv = label(g, 'p-value-label', c.rX, c.rY + 9.8, '', 7.6, 'start', '#222');
  const it = make(pv, 'tspan', {'font-style':'italic'});
  it.textContent = 'P';
  const rest = make(pv, 'tspan', {});
  rest.textContent = ' < 0.001';
}

drawScatter('immune-estimate', {
  x:linear(0,670.3,1000,702), y:linear(.9,105,.3,195.3), ry:linear(1,80.65,0,245.65),
  left:634.7, right:786, top:76.7, bottom:200.3, xTicks:immuneTicks, yTicks:p1PurityTicks, low:p1Low, high:p1High, stray:p1Stray, fit:p1Fit,
  topLow:immuneLowBox, topLowOut:immuneLowOut, topHigh:immuneHighBox, topHighOut:immuneHighOut, topLowY:69.7, topHighY:58.7,
  rLow:p1PurityLowBox, rLowOut:p1PurityLowOut, rHigh:p1PurityHighBox, rHighOut:p1PurityHighOut, rLowX:794.3, rHighX:808.3, brY:73.7,
  legX:629.7, legY:42.3, legTitle:'Group of Immune score', xTitle:'Immune Score', xTitleX:713.3, xTitleY:218,
  yTitle:'Tumor purity calculated by ESTIMATE', yTitleX:614.3, yTitleY:146, yTitleSize:8.4, rX:650, rY:162.3, rText:'R = −0.91'});
drawScatter('immune-cpe', {
  x:linear(0,905.3,1000,937), y:linear(.8,106.7,.4,177), ry:linear(1,74.8,0,244.8),
  left:869, right:1021.3, top:77.3, bottom:201, xTicks:immuneTicks, yTicks:p2PurityTicks, low:p2Low, high:p2High, stray:p2Stray, fit:p2Fit,
  topLow:immuneLowBox, topLowOut:immuneLowOut, topHigh:immuneHighBox, topHighOut:immuneHighOut, topLowY:70.3, topHighY:59.3,
  rLow:p2PurityLowBox, rLowOut:p2PurityLowOut, rHigh:p2PurityHighBox, rHighOut:p2PurityHighOut, rLowX:1029.7, rHighX:1043.3, brY:76.3,
  legX:867.7, legY:42.3, legTitle:'Group of Immune score', xTitle:'Immune Score', xTitleX:949.3, xTitleY:218,
  yTitle:'Tumor purity calculated by CPE', yTitleX:849, yTitleY:140, yTitleSize:8.4, rX:880.7, rY:163, rText:'R = −0.83'});
drawScatter('stromal-estimate', {
  x:linear(0,704.3,1000,739.7), y:linear(1,304,.4,398.7), ry:linear(1,300,0,462),
  left:633.7, right:786, top:296, bottom:419.3, xTicks:stromalTicks, yTicks:p3PurityTicks, low:p3Low, high:p3High, stray:p3Stray, fit:p3Fit,
  topLow:stromalLowBox, topLowOut:stromalLowOut, topHigh:stromalHighBox, topHighOut:stromalHighOut, topLowY:289.3, topHighY:277.7,
  rLow:p3PurityLowBox, rLowOut:p3PurityLowOut, rHigh:p3PurityHighBox, rHighOut:p3PurityHighOut, rLowX:794.3, rHighX:808, brY:290.7,
  legX:624.3, legY:264.7, legTitle:'Group of Stromal score', xTitle:'Stromal Score', xTitleX:712, xTitleY:437,
  yTitle:'Tumor purity calculated by ESTIMATE', yTitleX:613.7, yTitleY:352.5, yTitleSize:8.4, rX:648.3, rY:385.7, rText:'R = −0.9'});
drawScatter('stromal-cpe', {
  x:linear(0,936.7,1000,972.2), y:linear(.8,325.7,.4,396.3), ry:linear(1,290.6,0,460.6),
  left:866.7, right:1018.7, top:296, bottom:420, xTicks:stromalTicks, yTicks:p4PurityTicks, low:p4Low, high:p4High, stray:p4Stray, fit:p4Fit,
  topLow:stromalLowBox, topLowOut:stromalLowOut, topHigh:stromalHighBox, topHighOut:stromalHighOut, topLowY:289.3, topHighY:277.7,
  rLow:p4PurityLowBox, rLowOut:p4PurityLowOut, rHigh:p4PurityHighBox, rHighOut:p4PurityHighOut, rLowX:1026.7, rHighX:1040.7, brY:290.7,
  legX:866.7, legY:264.7, legTitle:'Group of Stromal score', xTitle:'Stromal Score', xTitleX:949, xTitleY:437,
  yTitle:'Tumor purity calculated by CPE', yTitleX:846.7, yTitleY:358, yTitleSize:8.4, rX:880.7, rY:386, rText:'R = −0.75'});
</script>
</body>
</html>
